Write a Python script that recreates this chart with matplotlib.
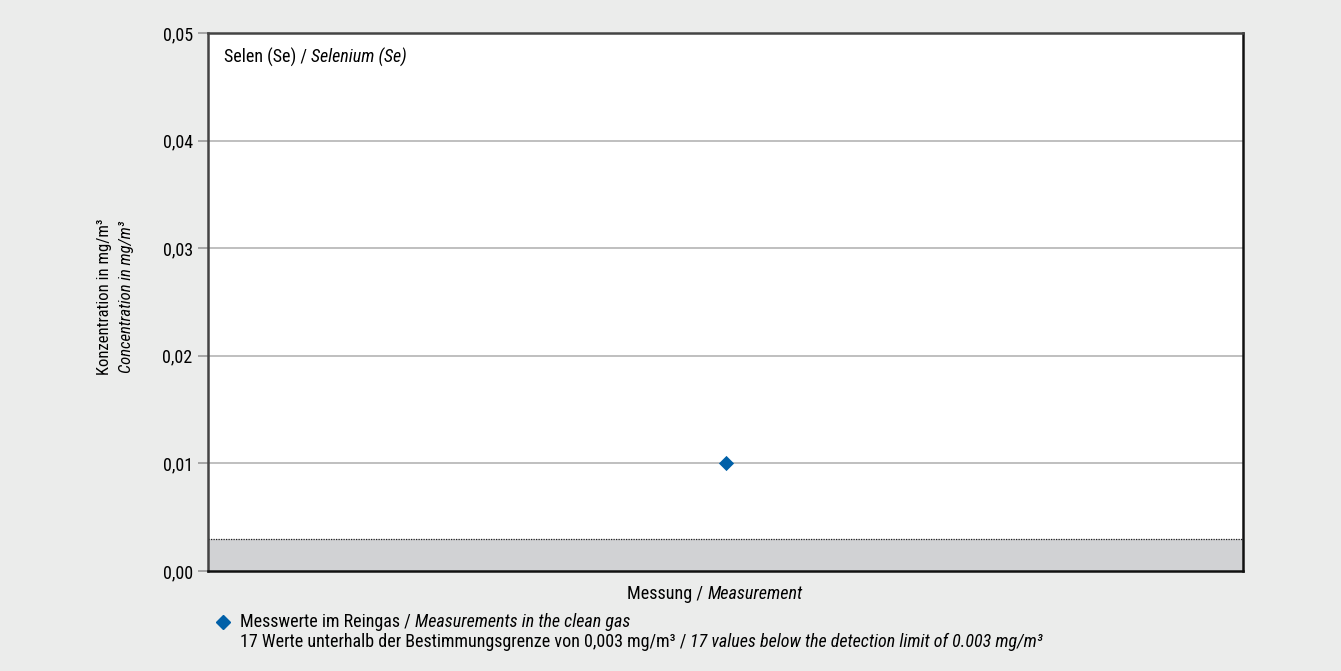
import matplotlib
matplotlib.use('Agg')
import matplotlib.pyplot as plt
from matplotlib import font_manager

# data
messung = [1]
werte = [0.010]
bestimmungsgrenze = 0.003
y_ticks = [0.00, 0.01, 0.02, 0.03, 0.04, 0.05]
y_labels = ['0,00', '0,01', '0,02', '0,03', '0,04', '0,05']

names = {f.name for f in font_manager.fontManager.ttflist}
fam = 'Liberation Sans'
for c in ['Roboto Condensed', 'Archivo Narrow', 'PT Sans Narrow', 'Liberation Sans Narrow',
          'Fira Sans Condensed', 'IBM Plex Sans Condensed', 'Encode Sans Condensed', 'Open Sans Condensed']:
    if c in names:
        fam = c
        break
plt.rcParams['font.family'] = [fam, 'DejaVu Sans']

bg = '#ebeceb'
fig = plt.figure(figsize=(13.41, 6.71), dpi=100, facecolor=bg)
ax = fig.add_axes([208/1341, 1-571/671, (1243-208)/1341, (571-33)/671])
ax.set_facecolor('white')

ax.set_xlim(0, 2)
ax.set_ylim(0, 0.05)

# Bestimmungsgrenze
ax.axhspan(0, bestimmungsgrenze, color='#d1d2d4', zorder=1, lw=0)
ax.axhline(bestimmungsgrenze, color='#222222', ls=(0, (1, 1)), lw=0.9, zorder=2)

for t in y_ticks[1:-1]:
    ax.axhline(t, color='#b4b4b4', lw=1.2, zorder=1)

ax.scatter(messung, werte, marker='D', s=60, color='#0060a8', zorder=5, lw=0)

ax.set_yticks(y_ticks)
ax.set_yticklabels(y_labels, fontsize=13)
ax.set_xticks([])
ax.tick_params(axis='y', length=7, width=1.2, color='#999999', pad=4)

for s in ['left', 'top']:
    ax.spines[s].set_color('#444444')
    ax.spines[s].set_linewidth(1.8)
for s in ['right', 'bottom']:
    ax.spines[s].set_color('#111111')
    ax.spines[s].set_linewidth(1.8)

# titel
t1 = ax.text(16/1035, 1 - 24/538, 'Selen (Se) / ', transform=ax.transAxes, fontsize=13, va='center', ha='left')
ax.annotate('Selenium (Se)', xy=(1, 0), xycoords=t1, va='bottom', ha='left', fontsize=13, style='italic')

# y achse
fig.text(105/1341, 1-297/671, 'Konzentration in mg/m³', rotation=90, fontsize=12, ha='center', va='center')
fig.text(127/1341, 1-297/671, 'Concentration in mg/m³', rotation=90, fontsize=12, ha='center', va='center', style='italic')

# x achse
x1 = fig.text(627/1341, 1-594/671, 'Messung / ', fontsize=13.1, ha='left', va='center')
plt.annotate('Measurement', xy=(1, 0), xycoords=x1, va='bottom', ha='left', fontsize=13.1, style='italic', annotation_clip=False)

# legende
fs = 13
fig.lines.append(plt.Line2D([223/1341], [1-622/671], marker='D', ms=7, color='#0060a8', lw=0, transform=fig.transFigure))
l1 = fig.text(240/1341, 1-622/671, 'Messwerte im Reingas / ', fontsize=fs, ha='left', va='center')
plt.annotate('Measurements in the clean gas', xy=(1, 0), xycoords=l1, va='bottom', ha='left', fontsize=fs, style='italic', annotation_clip=False)
l2 = fig.text(240/1341, 1-642/671, '17 Werte unterhalb der Bestimmungsgrenze von 0,003 mg/m³ / ', fontsize=fs, ha='left', va='center')
plt.annotate('17 values below the detection limit of 0.003 mg/m³', xy=(1, 0), xycoords=l2, va='bottom', ha='left', fontsize=fs, style='italic', annotation_clip=False)

fig.savefig('out.png', dpi=100, facecolor=bg)
